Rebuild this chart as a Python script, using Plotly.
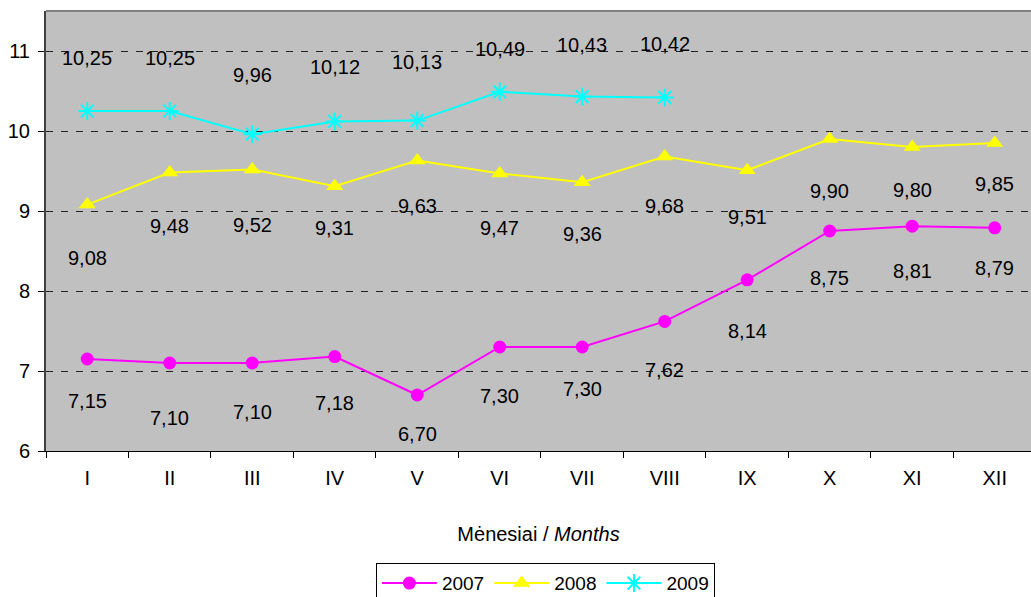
import plotly.graph_objects as go

# ---- data ----
months = ["I", "II", "III", "IV", "V", "VI", "VII", "VIII", "IX", "X", "XI", "XII"]
v2007 = [7.15, 7.10, 7.10, 7.18, 6.70, 7.30, 7.30, 7.62, 8.14, 8.75, 8.81, 8.79]
v2008 = [9.08, 9.48, 9.52, 9.31, 9.63, 9.47, 9.36, 9.68, 9.51, 9.90, 9.80, 9.85]
v2009 = [10.25, 10.25, 9.96, 10.12, 10.13, 10.49, 10.43, 10.42]
series_names = ["2007", "2008", "2009"]
y_ticks = [6, 7, 8, 9, 10, 11]

# ---- style: data-label pixel offsets (positive = below point) ----
lab_off_2007 = [42, 55, 49, 46, 39, 49, 42, 49, 51, 47, 45, 40]
lab_off_2008 = [53, 53, 56, 42, 45, 55, 52, 49, 47, 52, 43, 41]
lab_off_2009 = [-53, -53, -59, -54, -59, -43, -52, -53]

FONT = "Liberation Sans, Arial, sans-serif"
FS = 20

fig = go.Figure()

fig.add_trace(go.Scatter(
    x=months, y=v2007, name=series_names[0], mode="lines+markers",
    line=dict(color="#FF00FF", width=2),
    marker=dict(symbol="circle", size=13, color="#FF00FF"),
))
fig.add_trace(go.Scatter(
    x=months, y=v2008, name=series_names[1], mode="lines+markers",
    line=dict(color="#FFFF00", width=2),
    marker=dict(symbol="triangle-up", size=15, color="#FFFF00"),
))
fig.add_trace(go.Scatter(
    x=months[:len(v2009)], y=v2009, name=series_names[2], mode="lines+markers",
    line=dict(color="#00FFFF", width=2),
    marker=dict(symbol="asterisk-open", size=15, color="#00FFFF",
                line=dict(color="#00FFFF", width=2)),
))

def fmt(v):
    return f"{v:.2f}".replace(".", ",")

annotations = []
for vals, offs in ((v2007, lab_off_2007), (v2008, lab_off_2008), (v2009, lab_off_2009)):
    for i, v in enumerate(vals):
        annotations.append(dict(
            x=months[i], y=v, xref="x", yref="y", text=fmt(v), showarrow=False,
            yshift=-offs[i], font=dict(family=FONT, size=FS, color="black"),
        ))

fig.update_layout(
    width=1031, height=597,
    margin=dict(l=46, r=0, t=11, b=146, autoexpand=False),
    paper_bgcolor="white",
    plot_bgcolor="#C0C0C0",
    font=dict(family=FONT, size=FS, color="black"),
    showlegend=True,
    legend=dict(
        orientation="h", x=0.507, xanchor="center", y=-0.255, yanchor="top",
        bgcolor="white", bordercolor="black", borderwidth=1,
        font=dict(family=FONT, size=FS - 1, color="black"),
        itemwidth=55, tracegroupgap=0,
    ),
    annotations=annotations,
    shapes=[dict(type="line", xref="paper", yref="paper", x0=0, x1=1, y0=1, y1=1,
                 line=dict(color="#808080", width=2))],
)

fig.update_xaxes(
    type="category", categoryorder="array", categoryarray=months,
    range=[-0.5, 11.44], automargin=False,
    showgrid=False, showline=True, linecolor="black", linewidth=1,
    ticks="outside", tickson="boundaries", ticklen=6, tickcolor="black",
    tickfont=dict(family=FONT, size=FS), ticklabelstandoff=9,
    title=dict(text="Mėnesiai / <i>Months</i>", font=dict(family=FONT, size=20), standoff=38),
    zeroline=False,
)
fig.update_yaxes(
    range=[6, 11.5], tickvals=y_ticks, automargin=False,
    showgrid=True, gridcolor="#222222", gridwidth=1, griddash="7px,8px",
    showline=True, linecolor="#404040", linewidth=2,
    ticks="outside", ticklen=6, tickcolor="black",
    tickfont=dict(family=FONT, size=FS), ticklabelstandoff=4,
    zeroline=False,
)

fig.write_html(
    "out.html",
    config={"displayModeBar": False},
    post_script="document.body.style.margin='0';document.body.style.overflow='hidden';",
)
